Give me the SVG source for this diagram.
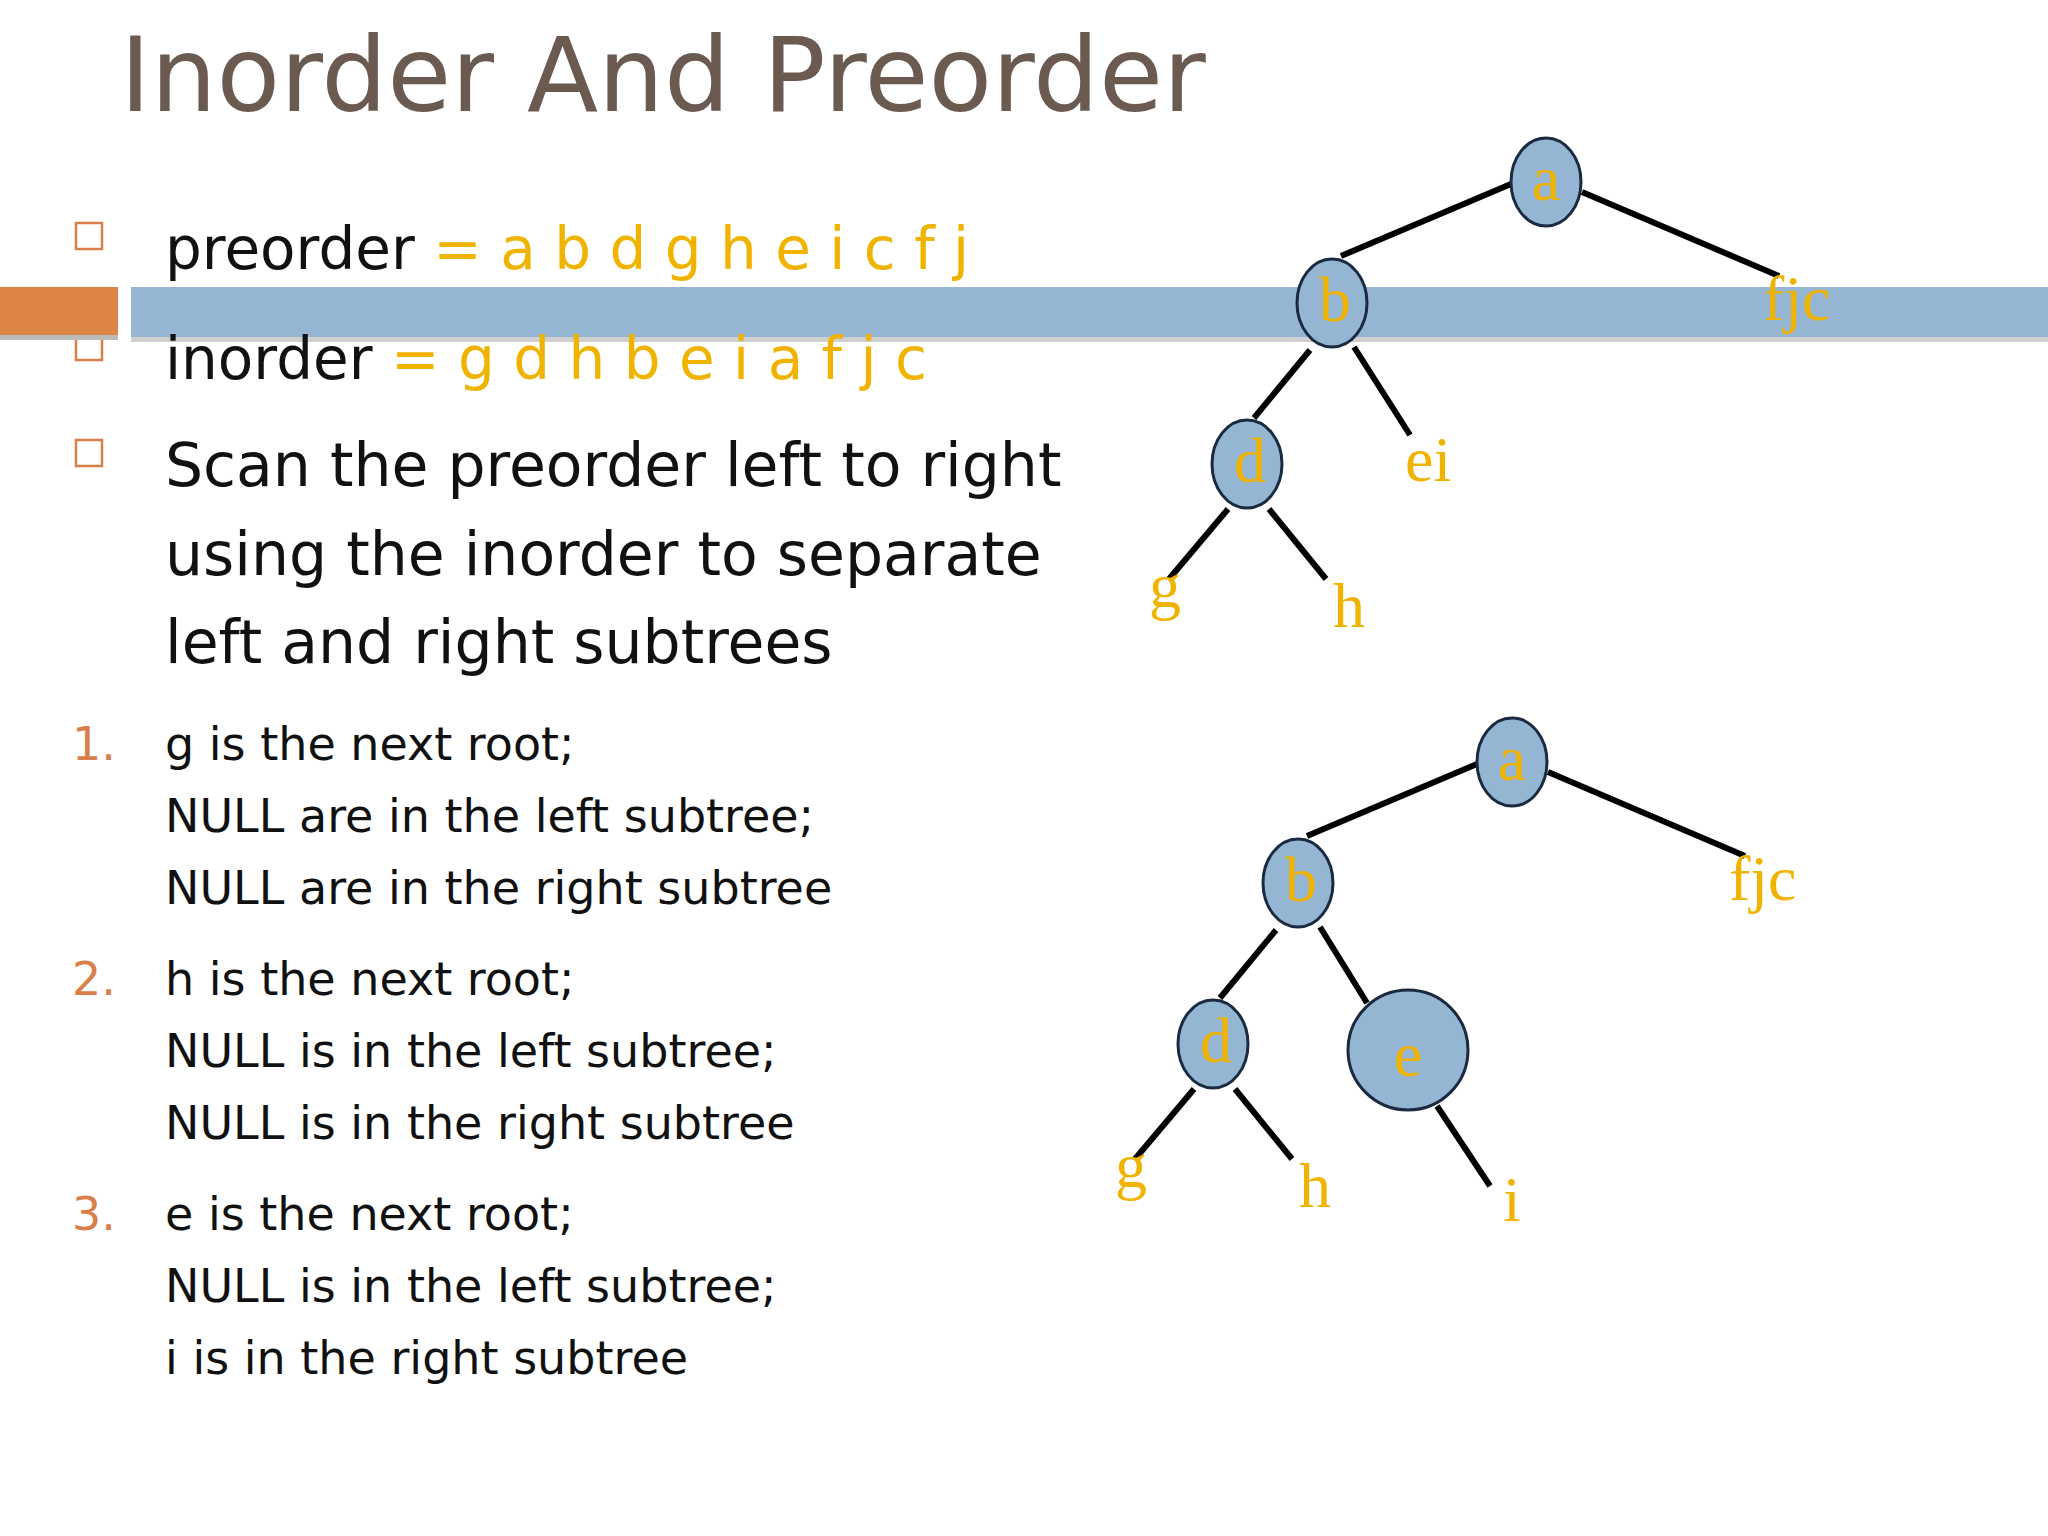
<svg xmlns="http://www.w3.org/2000/svg" width="2048" height="1536" viewBox="0 0 2048 1536">
<style>
.t{font-family:"DejaVu Sans",sans-serif;fill:#111}
.o{fill:#f0b400}
.n{fill:#94b6d2;stroke:#1a2a40;stroke-width:3}
.l{font-family:"Liberation Serif",serif;fill:#f0b400;font-size:64px}
.e{stroke:#000;stroke-width:6}
.b{fill:none;stroke:#d9804a;stroke-width:2.5}
</style>
<rect width="2048" height="1536" fill="#fff"/>
<text x="120" y="111" font-family="DejaVu Sans,sans-serif" font-size="104" fill="#6b5a50">Inorder And Preorder</text>
<rect class="b" x="76" y="223" width="26" height="26"/>
<rect class="b" x="76" y="334" width="26" height="26"/>
<rect class="b" x="76" y="440" width="26" height="26"/>
<rect x="0" y="292" width="118" height="48" fill="#bbb"/>
<rect x="131" y="292" width="1917" height="50" fill="#bbb" opacity="0.7"/>
<rect x="0" y="287" width="118" height="48" fill="#dd8447"/>
<rect x="131" y="287" width="1917" height="50" fill="#94b6d2"/>
<text class="t" x="165" y="269" font-size="58">preorder <tspan class="o">= a b d g h e i c f j</tspan></text>
<text class="t" x="165" y="379" font-size="58">inorder <tspan class="o">= g d h b e i a f j c</tspan></text>
<g class="t" font-size="60">
<text x="165" y="486">Scan the preorder left to right</text>
<text x="165" y="575">using the inorder to separate</text>
<text x="165" y="663">left and right subtrees</text>
</g>
<g class="t" font-size="46">
<text x="72" y="760" fill="#d9804a">1.</text>
<text x="165" y="760">g is the next root;</text>
<text x="165" y="832">NULL are in the left subtree;</text>
<text x="165" y="904">NULL are in the right subtree</text>
<text x="72" y="995" fill="#d9804a">2.</text>
<text x="165" y="995">h is the next root;</text>
<text x="165" y="1067">NULL is in the left subtree;</text>
<text x="165" y="1139">NULL is in the right subtree</text>
<text x="72" y="1230" fill="#d9804a">3.</text>
<text x="165" y="1230">e is the next root;</text>
<text x="165" y="1302">NULL is in the left subtree;</text>
<text x="165" y="1374">i is in the right subtree</text>
</g>
<g id="connectors">
<line class="e" x1="1511" y1="184" x2="1341" y2="256"/>
<line class="e" x1="1582" y1="192" x2="1779" y2="276"/>
<line class="e" x1="1310" y1="350" x2="1254" y2="418"/>
<line class="e" x1="1354" y1="347" x2="1410" y2="435"/>
<line class="e" x1="1228" y1="509" x2="1169" y2="579"/>
<line class="e" x1="1269" y1="509" x2="1326" y2="579"/>
<line class="e" x1="1477" y1="764" x2="1307" y2="836"/>
<line class="e" x1="1548" y1="772" x2="1745" y2="856"/>
<line class="e" x1="1276" y1="930" x2="1220" y2="998"/>
<line class="e" x1="1320" y1="927" x2="1367" y2="1003"/>
<line class="e" x1="1194" y1="1089" x2="1135" y2="1159"/>
<line class="e" x1="1235" y1="1089" x2="1292" y2="1159"/>
<line class="e" x1="1437" y1="1106" x2="1490" y2="1186"/>
</g>
<g id="t1a"><ellipse class="n" cx="1546" cy="182" rx="35" ry="44"/><text class="l" x="1546" y="200" text-anchor="middle">a</text></g>
<g id="t1b"><ellipse class="n" cx="1332" cy="303" rx="35" ry="44"/><text class="l" x="1335" y="321" text-anchor="middle">b</text></g>
<g id="t1d"><ellipse class="n" cx="1247" cy="464" rx="35" ry="44"/><text class="l" x="1250" y="482" text-anchor="middle">d</text></g>
<text class="l" x="1763" y="320">fjc</text>
<text class="l" x="1405" y="481">ei</text>
<text class="l" x="1149" y="607">g</text>
<text class="l" x="1333" y="627">h</text>
<g id="t2a"><ellipse class="n" cx="1512" cy="762" rx="35" ry="44"/><text class="l" x="1512" y="780" text-anchor="middle">a</text></g>
<g id="t2b"><ellipse class="n" cx="1298" cy="883" rx="35" ry="44"/><text class="l" x="1301" y="901" text-anchor="middle">b</text></g>
<g id="t2d"><ellipse class="n" cx="1213" cy="1044" rx="35" ry="44"/><text class="l" x="1216" y="1062" text-anchor="middle">d</text></g>
<g id="t2e"><circle class="n" cx="1408" cy="1050" r="60"/><text class="l" x="1408" y="1076" text-anchor="middle" font-size="80">e</text></g>
<text class="l" x="1729" y="900">fjc</text>
<text class="l" x="1115" y="1187">g</text>
<text class="l" x="1299" y="1207">h</text>
<text class="l" x="1503" y="1221" font-size="46">i</text>
</svg>
